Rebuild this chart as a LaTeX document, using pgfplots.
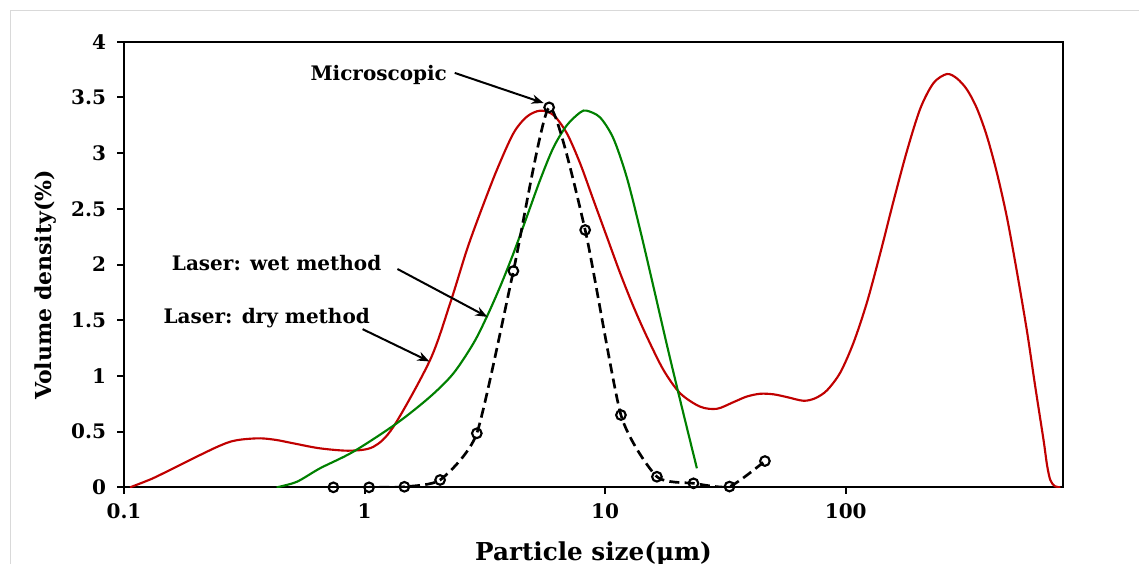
\documentclass[border=0pt]{standalone}
\usepackage{fontspec}
\setmainfont{DejaVu Serif}
\usepackage{pgfplots}
\pgfplotsset{compat=1.18}
\usetikzlibrary{arrows.meta}
\definecolor{dryred}{HTML}{C00000}
\definecolor{wetgreen}{HTML}{008000}
\begin{document}
\begin{tikzpicture}[font=\bfseries]
\useasboundingbox (0,0) rectangle (854.25pt,423pt);
\draw[black!15, line width=0.75pt] (7.5pt,-20pt) -- (7.5pt,414.75pt) -- (880pt,414.75pt);
\begin{axis}[
  at={(93pt,57.5pt)}, anchor=south west,
  scale only axis, width=704.25pt, height=334.2pt,
  xmode=log, xmin=0.1, xmax=800, ymin=0, ymax=4,
  xtick={0.1,1,10,100}, xticklabels={0.1,1,10,100},
  xminorticks=false,
  ytick={0,0.5,1,1.5,2,2.5,3,3.5,4}, yticklabels={0,0.5,1,1.5,2,2.5,3,3.5,4},
  tick align=outside, tick pos=left, major tick length=5pt,
  axis line style={line width=1.5pt},
  every tick/.style={black, line width=1.5pt},
  ticklabel style={font=\bfseries\fontsize{15}{17}\selectfont},
  yticklabel style={xshift=-5pt},
  xticklabel style={yshift=-4pt},
  xlabel={Particle size(μm)}, ylabel={Volume density(\%)},
  xlabel style={font=\bfseries\fontsize{18.5}{22}\selectfont, at={(axis description cs:0.5,0)}, anchor=north, yshift=-37pt},
  ylabel style={font=\bfseries\fontsize{16.5}{20}\selectfont, at={(axis description cs:0,0.454)}, anchor=center, yshift=59pt},
  clip mode=individual,
]
\addplot[dryred, line width=1.6pt, smooth] coordinates {
(0.106,0) (0.13,0.075) (0.155,0.155) (0.18,0.225) (0.214,0.305) (0.245,0.365)
(0.276,0.409) (0.31,0.43) (0.368,0.44) (0.43,0.425) (0.506,0.395)
(0.653,0.35) (0.87,0.329) (1.088,0.364) (1.318,0.544)
(1.872,1.143) (2.268,1.652) (2.66,2.130) (3.02,2.460) (3.545,2.848)
(4.156,3.178) (4.725,3.327) (5.366,3.381) (6.095,3.342) (6.93,3.178)
(7.87,2.908) (8.94,2.579) (10.16,2.250) (11.55,1.921) (13.12,1.621)
(14.91,1.352) (17.48,1.053) (20.51,0.844) (24.83,0.724) (29.13,0.705)
(34.16,0.765) (38.8,0.815) (44.1,0.84) (50.1,0.835) (57.0,0.81) (66.8,0.777)
(74.7,0.80) (83.5,0.87) (94.9,1.03) (107.8,1.30) (122.5,1.66) (139.1,2.10)
(158.0,2.57) (179.7,3.02) (204.1,3.40) (231.8,3.63) (263.5,3.71)
(290,3.67) (319.2,3.57) (351.2,3.40) (386.5,3.15) (425.3,2.82)
(468.1,2.42) (515.1,1.93) (566.9,1.40) (613.8,0.90) (664.5,0.42)
(686.6,0.2) (708.6,0.065) (740,0.01) (779.8,0)
};
\addplot[wetgreen, line width=1.6pt, smooth] coordinates {
(0.431,0) (0.523,0.05) (0.653,0.171) (0.898,0.32) (1.361,0.575)
(1.872,0.813) (2.34,1.023) (2.835,1.293) (3.222,1.531) (3.66,1.801)
(4.156,2.100) (4.725,2.429) (5.366,2.759) (6.095,3.05) (6.93,3.25)
(7.87,3.365) (8.39,3.381) (9.53,3.32) (10.83,3.13) (12.31,2.78)
(13.98,2.31) (15.88,1.80) (18.05,1.28) (20.51,0.78) (24.06,0.171)
};
\addplot[black, line width=2pt, dash pattern=on 7.5pt off 4pt, smooth, tension=0.35,
  mark=o, mark size=3.6pt, mark options={solid, fill=white, line width=1.6pt}] coordinates {
(0.742,0) (1.044,0) (1.464,0.005) (2.06,0.066) (2.928,0.485) (4.156,1.942)
(5.85,3.411) (8.26,2.31) (11.63,0.649) (16.41,0.095) (23.29,0.036) (32.88,0.007)
(46.14,0.236)
};
\node[anchor=east, font=\bfseries\fontsize{15}{17}\selectfont] at (axis cs:2.30,3.70) {Microscopic};
\draw[line width=1.5pt, -{Stealth[length=9pt,width=7pt]}] (axis cs:2.37,3.72) -- (axis cs:5.55,3.45);
\node[font=\bfseries\fontsize{15}{17}\selectfont] at (axis cs:0.431,2.01) {Laser: wet method};
\draw[line width=1.5pt, -{Stealth[length=9pt,width=7pt]}] (axis cs:1.37,1.96) -- (axis cs:3.24,1.53);
\node[font=\bfseries\fontsize{15}{17}\selectfont] at (axis cs:0.392,1.52) {Laser: dry method};
\draw[line width=1.5pt, -{Stealth[length=9pt,width=7pt]}] (axis cs:0.981,1.42) -- (axis cs:1.86,1.13);
\end{axis}
\end{tikzpicture}
\end{document}
